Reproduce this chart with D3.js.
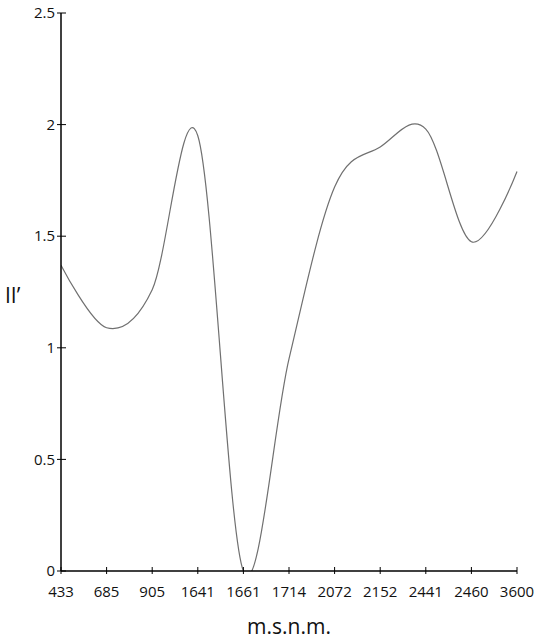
<!DOCTYPE html>
<html>
<head>
<meta charset="utf-8">
<script src="https://cdn.jsdelivr.net/npm/d3@7"></script>
<style>
  body { margin: 0; background: #fff; }
  text { font-family: 'Open Sans', sans-serif; fill: #111; }
  .tick-label { font-size: 15px; }
  .axis-title { font-size: 21px; }
</style>
</head>
<body>
<svg id="chart" width="541" height="643"></svg>
<script>
// altitudes (categories on x)
let altitudes = ['433', '685', '905', '1641', '1661', '1714', '2072', '2152', '2441', '2460', '3600']
// index values
let values = [1.37, 1.09, 1.26, 1.95, 0, 0.95, 1.72, 1.90, 1.98, 1.475, 1.79]
let yTicks = [0, 0.5, 1, 1.5, 2, 2.5]

let svg = d3.select('#chart')

let x = d3.scalePoint()
  .domain(altitudes)
  .range([61, 517])

let y = d3.scaleLinear()
  .domain([0, 2.5])
  .range([571, 13])

// clip so the smoothed line does not go below 0
svg.append('clipPath')
  .attr('id', 'plot-clip')
  .append('rect')
  .attr('x', 61)
  .attr('y', 0)
  .attr('width', 480)
  .attr('height', y(0))

let line = d3.line()
  .x((d, i) => x(altitudes[i]))
  .y(d => y(d))
  .curve(d3.curveCardinal.tension(0))

svg.append('path')
  .datum(values)
  .attr('d', line)
  .attr('clip-path', 'url(#plot-clip)')
  .attr('fill', 'none')
  .attr('stroke', '#707070')
  .attr('stroke-width', 1.2)

// y axis
svg.append('line')
  .attr('x1', 61).attr('x2', 61)
  .attr('y1', y(2.5)).attr('y2', y(0))
  .attr('stroke', '#000')
  .attr('stroke-width', 1.5)

svg.selectAll('.ytick')
  .data(yTicks)
  .enter()
  .append('line')
  .attr('class', 'ytick')
  .attr('x1', 57).attr('x2', 66)
  .attr('y1', d => y(d)).attr('y2', d => y(d))
  .attr('stroke', '#000')
  .attr('stroke-width', 1)

svg.selectAll('.ylabel')
  .data(yTicks)
  .enter()
  .append('text')
  .attr('class', 'tick-label')
  .attr('x', 55)
  .attr('y', d => y(d))
  .attr('dy', '0.35em')
  .attr('text-anchor', 'end')
  .text(d => d)

// x axis
svg.append('line')
  .attr('x1', 61).attr('x2', 517)
  .attr('y1', y(0)).attr('y2', y(0))
  .attr('stroke', '#000')
  .attr('stroke-width', 1.5)

svg.selectAll('.xtick')
  .data(altitudes)
  .enter()
  .append('line')
  .attr('class', 'xtick')
  .attr('x1', d => x(d)).attr('x2', d => x(d))
  .attr('y1', y(0) - 4).attr('y2', y(0) + 3)
  .attr('stroke', '#000')
  .attr('stroke-width', 1)

svg.selectAll('.xlabel')
  .data(altitudes)
  .enter()
  .append('text')
  .attr('class', 'tick-label')
  .attr('x', d => x(d))
  .attr('y', 597)
  .attr('text-anchor', 'middle')
  .text(d => d)

svg.append('text')
  .attr('class', 'axis-title')
  .attr('x', 289)
  .attr('y', 634)
  .attr('text-anchor', 'middle')
  .text('m.s.n.m.')

svg.append('text')
  .attr('class', 'axis-title')
  .attr('x', 5)
  .attr('y', 303)
  .text('II’')
</script>
</body>
</html>
